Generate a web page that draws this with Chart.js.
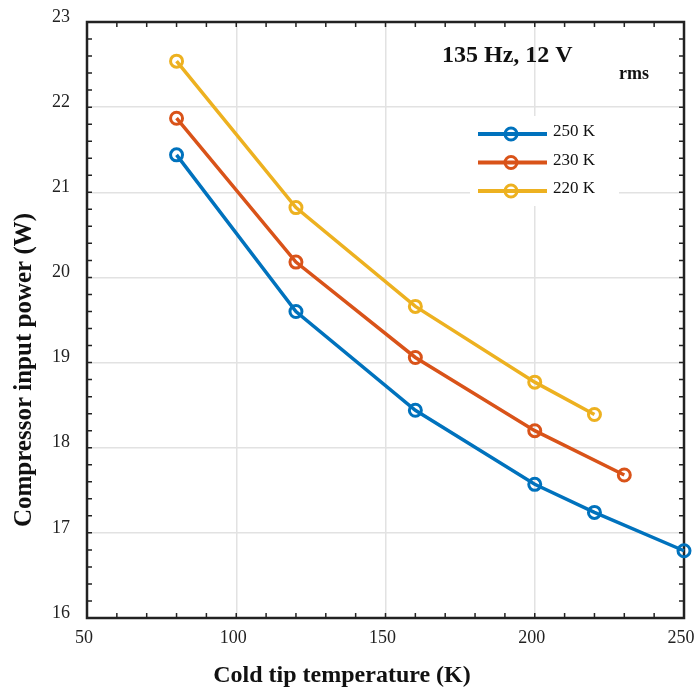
<!DOCTYPE html>
<html>
<head>
<meta charset="utf-8">
<script src="https://cdn.jsdelivr.net/npm/chart.js@4.4.1/dist/chart.umd.min.js"></script>
<style>
  html, body { margin: 0; padding: 0; background: #fff; }
  canvas { display: block; }
</style>
</head>
<body>
<canvas id="power" width="695" height="690"></canvas>
<script>
/* data: compressor input power vs cold tip temperature */
const temps250 = [80, 120, 160, 200, 220, 250];
const power250 = [21.44, 19.60, 18.44, 17.57, 17.24, 16.79];
const temps230 = [80, 120, 160, 200, 230];
const power230 = [21.87, 20.18, 19.06, 18.20, 17.68];
const temps220 = [80, 120, 160, 200, 220];
const power220 = [22.54, 20.82, 19.66, 18.77, 18.39];
const seriesNames = ["250 K", "230 K", "220 K"];
const seriesColors = ["#0072BD", "#D95319", "#EDB120"];

const xMin = 50, xMax = 250, xStep = 50, xMinor = 10;
const yMin = 16, yMax = 23, yStep = 1, yMinor = 0.2;

const SERIF = "'Liberation Serif', 'Times New Roman', serif";

function pts(xs, ys){
    return xs.map((x,i)=>({x:x, y:ys[i]}));
}

function series(i, xs, ys){
    return {
        label: seriesNames[i],
        data: pts(xs, ys),
        borderColor: seriesColors[i],
        backgroundColor: seriesColors[i],
        borderWidth: 3.5,
        pointRadius: 6,
        pointBorderWidth: 3,
        pointBackgroundColor: "rgba(0,0,0,0)",
        pointBorderColor: seriesColors[i],
        tension: 0,
        clip: false
    };
}

/* box + inward ticks on all four sides */
const frame = {
    id: "frame",
    beforeDatasetsDraw(chart){
        const {ctx, chartArea: a, scales: {x, y}} = chart;
        ctx.save();
        ctx.strokeStyle = "#222";
        ctx.lineWidth = 1.5;
        ctx.beginPath();
        const nx = Math.round((xMax-xMin)/xMinor);
        for(let i=1;i<nx;i++){
            const px = x.getPixelForValue(xMin+i*xMinor);
            ctx.moveTo(px, a.bottom); ctx.lineTo(px, a.bottom-5);
            ctx.moveTo(px, a.top); ctx.lineTo(px, a.top+5);
        }
        const ny = Math.round((yMax-yMin)/yMinor);
        for(let i=1;i<ny;i++){
            const py = y.getPixelForValue(yMin+i*yMinor);
            ctx.moveTo(a.left, py); ctx.lineTo(a.left+5, py);
            ctx.moveTo(a.right, py); ctx.lineTo(a.right-5, py);
        }
        ctx.stroke();
        ctx.lineWidth = 2.5;
        ctx.strokeRect(a.left, a.top, a.right-a.left, a.bottom-a.top);
        ctx.restore();
    }
};

/* legend box, annotation and axis titles */
const labels = {
    id: "labels",
    afterDatasetsDraw(chart){
        const {ctx} = chart;
        ctx.save();
        // legend
        ctx.fillStyle = "#fff";
        ctx.fillRect(470, 116, 149, 90);
        chart.data.datasets.forEach((ds,i)=>{
            const cy = 134 + i*28.5;
            ctx.strokeStyle = ds.borderColor;
            ctx.lineWidth = 4;
            ctx.beginPath();
            ctx.moveTo(478, cy); ctx.lineTo(547, cy);
            ctx.stroke();
            ctx.lineWidth = 3;
            ctx.beginPath();
            ctx.arc(511, cy, 6, 0, Math.PI*2);
            ctx.stroke();
            ctx.fillStyle = "#111";
            ctx.font = "17px " + SERIF;
            ctx.textAlign = "left";
            ctx.textBaseline = "alphabetic";
            ctx.fillText(ds.label, 553, cy+2);
        });
        // operating point note
        ctx.fillStyle = "#111";
        ctx.font = "bold 24px " + SERIF;
        ctx.textAlign = "left";
        ctx.fillText("135 Hz, 12 V", 442, 62);
        ctx.font = "bold 18px " + SERIF;
        ctx.fillText("rms", 619, 79);
        // axis titles
        ctx.font = "bold 24px " + SERIF;
        ctx.textAlign = "center";
        ctx.textBaseline = "middle";
        ctx.fillText("Cold tip temperature (K)", 342, 676);
        ctx.font = "bold 25px " + SERIF;
        ctx.translate(25, 370);
        ctx.rotate(-Math.PI/2);
        ctx.fillText("Compressor input power (W)", 0, 0);
        ctx.restore();
    }
};

new Chart(document.getElementById("power"), {
    type: "line",
    data: {
        datasets: [
            series(0, temps250, power250),
            series(1, temps230, power230),
            series(2, temps220, power220)
        ]
    },
    options: {
        responsive: false,
        animation: false,
        layout: {padding: {top: 22, right: 11, left: 0, bottom: 0}},
        plugins: {legend: {display: false}, tooltip: {enabled: false}},
        scales: {
            x: {
                type: "linear",
                min: xMin, max: xMax,
                border: {display: false},
                grid: {color: "#e2e2e2", lineWidth: 1.5, drawTicks: false},
                ticks: {
                    stepSize: xStep,
                    padding: 9,
                    labelOffset: -3,
                    color: "#222",
                    font: {family: SERIF, size: 18}
                },
                afterFit(s){ s.height = 72; s.paddingLeft = 0; s.paddingRight = 0; }
            },
            y: {
                type: "linear",
                min: yMin, max: yMax,
                border: {display: false},
                grid: {color: "#e2e2e2", lineWidth: 1.5, drawTicks: false},
                ticks: {
                    stepSize: yStep,
                    padding: 17,
                    labelOffset: -5,
                    color: "#222",
                    font: {family: SERIF, size: 18}
                },
                afterFit(s){ s.width = 87; s.paddingTop = 0; s.paddingBottom = 0; }
            }
        }
    },
    plugins: [frame, labels]
});
</script>
</body>
</html>
